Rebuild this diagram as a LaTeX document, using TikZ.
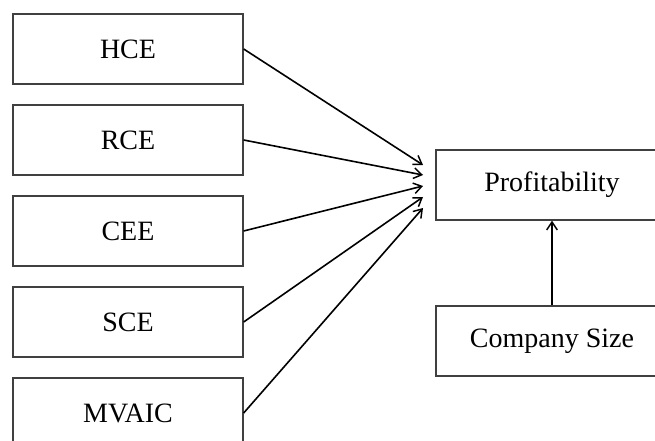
\documentclass[tikz,border=0pt]{standalone}
\usepackage{fontspec}
\setmainfont{Liberation Serif}
\usetikzlibrary{arrows.meta}

\tikzset{
	varbox/.style={draw=black!75, line width=1pt, minimum width=230*0.75pt, minimum height=70*0.75pt, inner sep=0pt, font=\fontsize{21}{25}\selectfont},
	link/.style={line width=1.2pt, -{Straight Barb[length=6pt, width=8pt, line width=1.1pt]}}
}

\begin{document}
\begin{tikzpicture}[x=0.75pt, y=-0.75pt]
		%%%%% START %%%%%
		
		\useasboundingbox (0, 0) rectangle (655, 441);
		\clip (0, 0) rectangle (655, 441);
		
		\node[varbox] (hce) at (128, 49) {HCE};
		\node[varbox] (rce) at (128, 140) {RCE};
		\node[varbox] (cee) at (128, 231) {CEE};
		\node[varbox] (sce) at (128, 322) {SCE};
		\node[varbox] (mvaic) at (128, 413) {MVAIC};
		
		\node[varbox, minimum width=232*0.75pt] (profit) at (552, 185) {Profitability};
		\node[varbox, minimum width=232*0.75pt] (size) at (552, 341) {Company Size};
		
		\coordinate (t1) at (423, 165);
		\coordinate (t2) at (423, 175);
		\coordinate (t3) at (423, 186);
		\coordinate (t4) at (423, 197);
		\coordinate (t5) at (423, 208);
		
		\draw[link] (hce.east) -- (t1);
		\draw[link] (rce.east) -- (t2);
		\draw[link] (cee.east) -- (t3);
		\draw[link] (sce.east) -- (t4);
		\draw[link] (mvaic.east) -- (t5);
		
		\draw[link] (size.north) -- (profit.south);
		
		%%%%% END %%%%%
	\end{tikzpicture}
\end{document}
